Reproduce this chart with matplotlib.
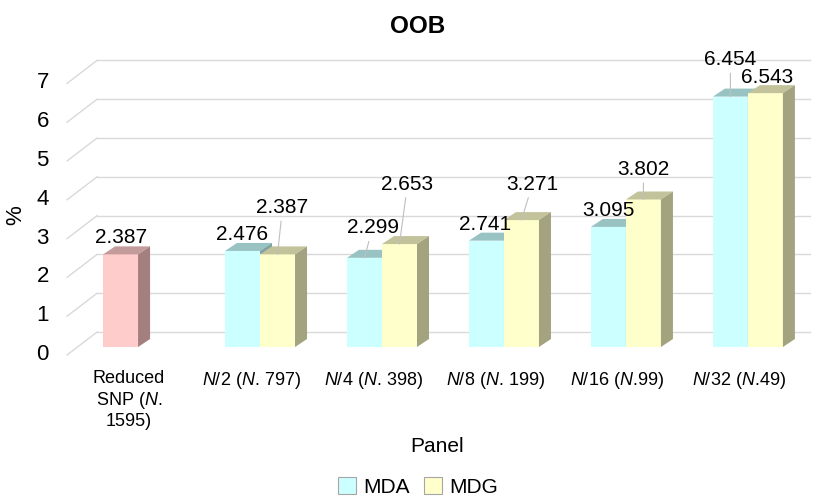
import numpy as np
import matplotlib
matplotlib.use('Agg')
import matplotlib.pyplot as plt
from matplotlib.patches import Polygon, Patch
from matplotlib.transforms import ScaledTranslation

plt.rcParams['font.family'] = ['Liberation Sans', 'DejaVu Sans']
plt.rcParams['mathtext.fontset'] = 'custom'
plt.rcParams['mathtext.rm'] = 'Liberation Sans'
plt.rcParams['mathtext.it'] = 'Liberation Sans:italic'

# data
categories = ['Reduced\nSNP ($N$.\n1595)', '$N$/2 ($N$. 797)', '$N$/4 ($N$. 398)',
              '$N$/8 ($N$. 199)', '$N$/16 ($N$.99)', '$N$/32 ($N$.49)']
reduced_snp = 2.387
mda = [2.476, 2.299, 2.741, 3.095, 6.454]
mdg = [2.387, 2.653, 3.271, 3.802, 6.543]
y_ticks = [0, 1, 2, 3, 4, 5, 6, 7]

# label offsets (pixels right / up from bar top), some labels were dragged in the original
snp_off = (1, 17)
mda_off = [(0, 16), (8, 30), (-1, 16), (0, 16), (0, 37)]
mdg_off = [(5, 47), (8, 60), (11, 36), (0, 30), (2, 16)]

W, H = 825, 498
fig = plt.figure(figsize=(W / 100, H / 100), dpi=100)
L, R, T, B = 60, 815, 55, 360
ax = fig.add_axes([L / W, 1 - B / H, (R - L) / W, (B - T) / H])
xlim = (-0.64, 5.55)
ylim = (-0.335, 7.526)
ax.set_xlim(*xlim)
ax.set_ylim(*ylim)
px_x = (R - L) / (xlim[1] - xlim[0])
px_y = (B - T) / (ylim[1] - ylim[0])

x = np.arange(len(categories))
w = 35 / px_x
ddx, ddy = 12 / px_x, 8 / px_y

# back wall grid + left wall diagonals
grid_c = '#D9D9D9'
wall_l = x[0] - 41 / px_x
wall_r = x[-1] + 62 / px_x
front_l = x[0] - 71 / px_x
for v in y_ticks:
    yb = v + 15 / px_y
    ax.plot([wall_l, wall_r], [yb, yb], color=grid_c, lw=1, zorder=0)
    ax.plot([front_l, wall_l], [v - 8 / px_y, yb], color=grid_c, lw=1, zorder=0)


def faces(x0s, hs, top, side, z):
    for x0, h in zip(x0s, hs):
        ax.add_patch(Polygon([(x0, h), (x0 + w, h), (x0 + w + ddx, h + ddy), (x0 + ddx, h + ddy)],
                             closed=True, fc=top, lw=0, zorder=z))
        ax.add_patch(Polygon([(x0 + w, 0), (x0 + w, h), (x0 + w + ddx, h + ddy), (x0 + w + ddx, ddy)],
                             closed=True, fc=side, lw=0, zorder=z))


# reduced SNP bar
ax.bar([x[0] - w], [reduced_snp], width=w, align='edge', color='#FFCCCC', lw=0, zorder=2)
faces([x[0] - w], [reduced_snp], '#C49B9B', '#A47F7F', 2)

for i in range(len(mda)):
    z = 3 + 2 * i
    ax.bar([x[i + 1] - w], [mda[i]], width=w, align='edge', color='#CCFFFF', lw=0, zorder=z)
    faces([x[i + 1] - w], [mda[i]], '#99C3C3', '#7FA3A3', z)
    ax.bar([x[i + 1]], [mdg[i]], width=w, align='edge', color='#FFFFCC', lw=0, zorder=z + 1)
    faces([x[i + 1]], [mdg[i]], '#C3C39B', '#A3A380', z + 1)


def label(xc, h, off):
    dx, dy = off
    lead = dict(arrowstyle='-', color='#BFBFBF', lw=0.8, shrinkA=1, shrinkB=0) if dy > 22 else None
    ax.annotate(f'{h:.3f}', xy=(xc, h), xytext=(dx * 0.72, dy * 0.72), textcoords='offset points',
                ha='center', va='center', fontsize=15, zorder=30, arrowprops=lead)


label(x[0] - w / 2, reduced_snp, snp_off)
for i in range(len(mda)):
    label(x[i + 1] - w / 2, mda[i], mda_off[i])
    label(x[i + 1] + w / 2, mdg[i], mdg_off[i])

for s in ax.spines.values():
    s.set_visible(False)
ax.set_yticks(y_ticks)
ax.tick_params(axis='y', length=0, pad=8, labelsize=16)
for lab in ax.get_yticklabels():
    lab.set_transform(lab.get_transform() + ScaledTranslation(0, -5 / 100, fig.dpi_scale_trans))
ax.set_xticks(x, categories)
ax.tick_params(axis='x', length=0, pad=7, labelsize=13)
for lab in ax.get_xticklabels():
    lab.set_transform(lab.get_transform() + ScaledTranslation(-9 / 100, 0, fig.dpi_scale_trans))

ax.set_xlabel('Panel', fontsize=15, labelpad=5)
ax.set_ylabel('%', fontsize=16)
ax.yaxis.set_label_coords((26 - L) / (R - L), (B - 215) / (B - T))
ax.set_title('OOB', fontsize=17.5, fontweight='bold', x=(418 - L) / (R - L), pad=16)

handles = [Patch(fc='#CCFFFF', ec='#A6A6A6', lw=0.8, label='MDA'),
           Patch(fc='#FFFFCC', ec='#A6A6A6', lw=0.8, label='MDG')]
fig.legend(handles=handles, loc='center', bbox_to_anchor=(418 / W, 1 - 487 / H), ncol=2,
           frameon=False, fontsize=15, handlelength=0.87, handleheight=0.87,
           handletextpad=0.35, columnspacing=0.7, borderpad=0)

fig.savefig('out.png', dpi=100)
